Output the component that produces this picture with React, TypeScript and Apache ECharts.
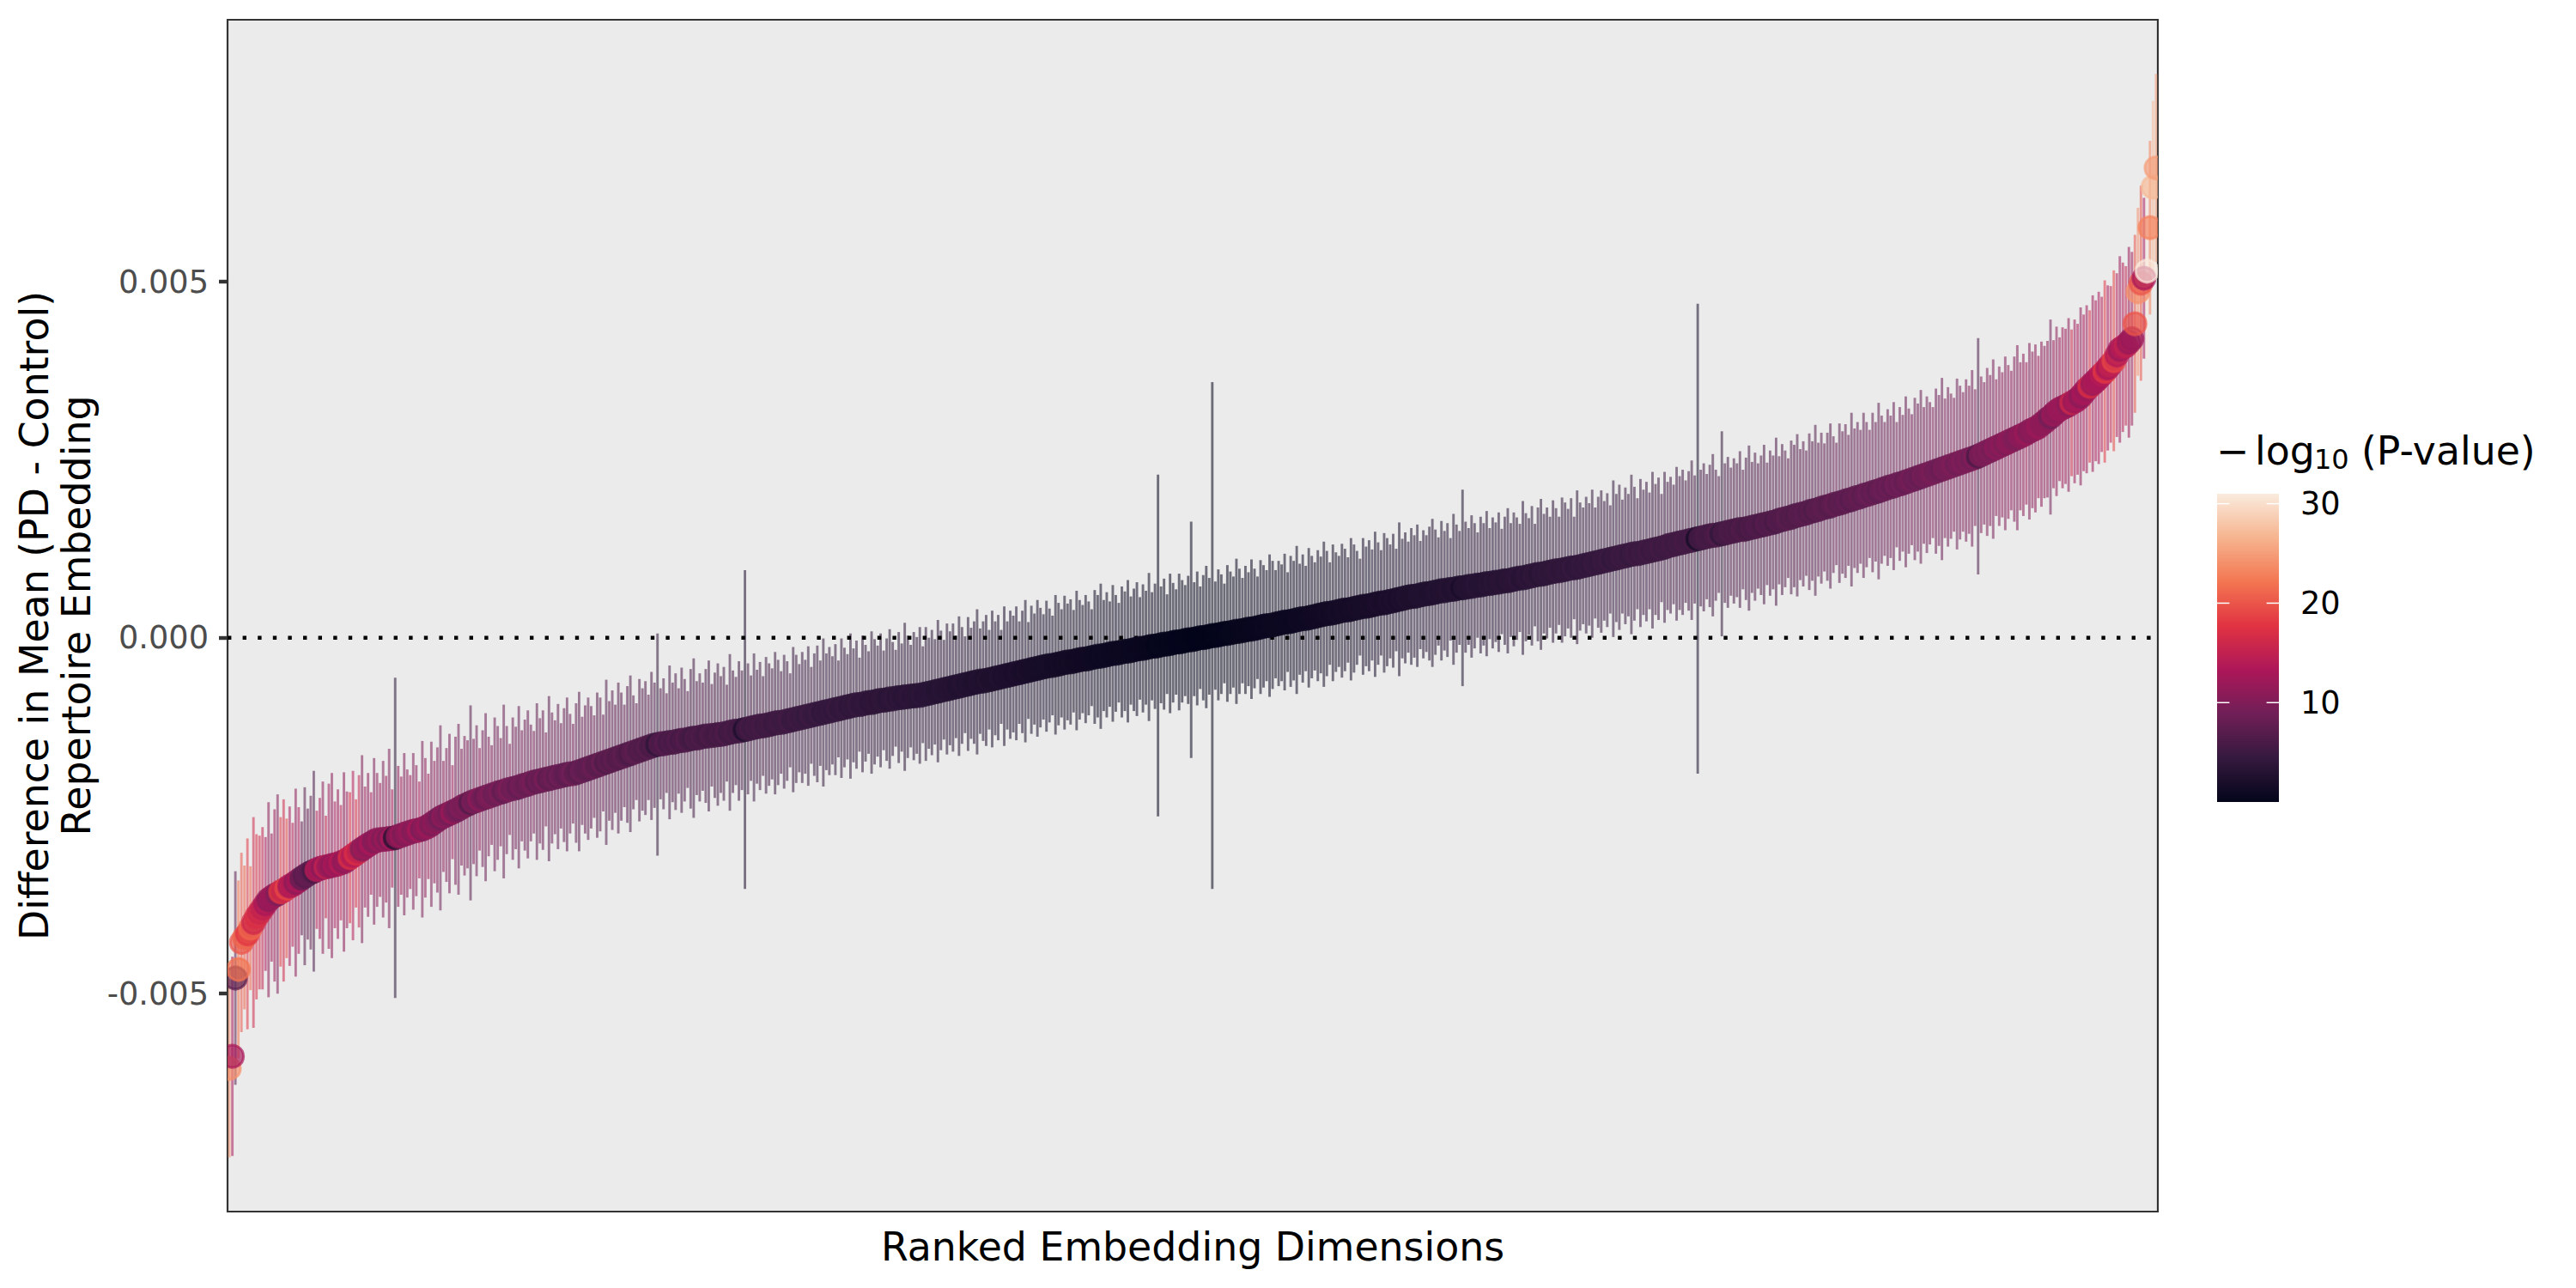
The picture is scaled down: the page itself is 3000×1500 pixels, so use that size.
import * as echarts from "echarts";
import { useEffect, useRef } from "react";

// difference in mean per ranked dimension, in units of 1e-5
const MEAN = [
  -605, -588, -478, -466, -428, -421, -416, -408, -400, -392, -386, -380, -374, -368, -365, -362, -360, -357, -355, -352,
  -349, -347, -344, -341, -338, -335, -332, -330, -328, -326, -324, -323, -322, -321, -320, -319, -318, -316, -315, -312,
  -309, -306, -303, -300, -297, -294, -291, -289, -286, -284, -284, -283, -283, -282, -282, -281, -279, -278, -276, -275,
  -273, -272, -271, -270, -269, -267, -265, -262, -259, -256, -253, -251, -249, -247, -245, -243, -241, -238, -236, -234,
  -232, -230, -229, -227, -226, -224, -223, -221, -220, -218, -217, -216, -214, -213, -212, -211, -210, -208, -207, -206,
  -204, -203, -202, -201, -200, -199, -198, -197, -196, -195, -194, -193, -192, -191, -191, -190, -188, -187, -185, -184,
  -182, -181, -179, -178, -176, -175, -173, -172, -170, -169, -167, -166, -164, -163, -161, -160, -158, -157, -155, -154,
  -152, -151, -150, -149, -149, -148, -147, -147, -146, -145, -144, -144, -143, -142, -141, -141, -140, -139, -138, -138,
  -137, -137, -136, -136, -135, -134, -133, -132, -131, -131, -130, -129, -128, -127, -126, -125, -124, -124, -123, -122,
  -121, -120, -119, -119, -118, -117, -116, -115, -114, -113, -112, -111, -110, -109, -108, -107, -106, -105, -104, -103,
  -102, -101, -100, -99, -98, -97, -96, -95, -94, -94, -93, -92, -91, -91, -90, -89, -88, -88, -87, -86,
  -86, -85, -84, -84, -83, -83, -82, -82, -81, -81, -80, -79, -78, -77, -76, -75, -74, -73, -72, -71,
  -70, -69, -68, -67, -66, -65, -64, -63, -62, -61, -61, -60, -59, -58, -57, -56, -55, -54, -53, -52,
  -51, -50, -49, -48, -47, -46, -45, -44, -43, -42, -41, -40, -39, -39, -38, -37, -36, -35, -34, -34,
  -33, -32, -31, -30, -30, -29, -28, -27, -26, -26, -25, -24, -23, -22, -22, -21, -20, -19, -19, -18,
  -17, -16, -15, -15, -14, -13, -12, -12, -11, -10, -9, -9, -8, -7, -6, -6, -5, -4, -3, -3,
  -2, -1, 0, 0, 1, 2, 3, 3, 4, 5, 6, 6, 7, 8, 9, 9, 10, 11, 12, 12,
  13, 14, 15, 16, 17, 17, 18, 19, 20, 21, 22, 22, 23, 24, 25, 26, 27, 27, 28, 29,
  30, 31, 32, 33, 34, 34, 35, 36, 37, 38, 39, 39, 40, 41, 42, 43, 44, 44, 45, 46,
  47, 48, 49, 49, 50, 51, 52, 53, 54, 55, 56, 57, 58, 58, 59, 60, 61, 62, 62, 63,
  64, 65, 66, 66, 67, 68, 68, 69, 70, 70, 71, 72, 72, 73, 74, 74, 75, 76, 76, 77,
  78, 78, 79, 80, 80, 81, 82, 83, 84, 84, 85, 86, 87, 88, 89, 89, 90, 91, 92, 93,
  94, 94, 95, 96, 97, 98, 98, 99, 100, 101, 102, 103, 104, 105, 106, 107, 108, 109, 110, 111,
  112, 113, 114, 115, 116, 117, 118, 118, 119, 120, 121, 122, 123, 124, 125, 126, 127, 129, 130, 131,
  132, 133, 134, 135, 136, 137, 138, 139, 140, 141, 142, 143, 144, 144, 145, 146, 147, 148, 149, 150,
  151, 152, 152, 153, 154, 155, 156, 157, 158, 159, 160, 161, 162, 163, 165, 166, 167, 168, 169, 171,
  172, 173, 174, 175, 177, 178, 179, 180, 182, 183, 184, 185, 187, 188, 189, 190, 192, 193, 194, 196,
  197, 198, 200, 201, 202, 204, 205, 206, 208, 209, 211, 212, 213, 215, 216, 217, 219, 220, 222, 223,
  225, 226, 228, 229, 231, 232, 234, 235, 237, 238, 240, 241, 243, 244, 246, 247, 249, 250, 252, 253,
  255, 257, 259, 261, 263, 265, 267, 269, 271, 273, 275, 277, 279, 281, 283, 285, 287, 290, 292, 294,
  296, 300, 303, 307, 310, 314, 318, 321, 323, 325, 327, 330, 332, 335, 339, 344, 349, 353, 357, 361,
  365, 370, 374, 379, 384, 389, 397, 405, 408, 410, 415, 420, 441, 486, 498, 505, 515, 576, 633, 660,
];

// half length of each interval, in units of 1e-5
const HALF = [
  125, 140, 150, 125, 126, 101, 134, 87, 148, 116, 108, 114, 94, 137, 90, 121, 140, 105, 128, 98,
  112, 87, 132, 103, 80, 125, 92, 108, 141, 83, 99, 121, 72, 116, 130, 89, 105, 81, 126, 96,
  92, 119, 76, 107, 132, 85, 101, 72, 117, 94, 80, 110, 89, 126, 69, 225, 99, 83, 114, 90,
  80, 110, 92, 68, 124, 98, 74, 116, 86, 102, 130, 78, 94, 112, 66, 104, 120, 82, 98, 90,
  137, 88, 106, 72, 96, 118, 84, 70, 108, 94, 76, 122, 90, 64, 100, 86, 114, 78, 92, 104,
  82, 72, 110, 88, 98, 66, 116, 92, 80, 102, 74, 94, 108, 84, 70, 98, 112, 76, 90, 100,
  86, 72, 102, 94, 68, 116, 84, 98, 76, 106, 90, 72, 96, 110, 80, 68, 100, 86, 94, 74,
  104, 88, 156, 78, 92, 70, 108, 84, 96, 74, 102, 86, 68, 98, 112, 80, 90, 76, 94, 106,
  72, 88, 100, 82, 94, 68, 110, 86, 76, 98, 84, 224, 92, 74, 104, 80, 90, 70, 96, 86,
  78, 100, 88, 72, 94, 84, 66, 102, 90, 76, 92, 80, 98, 68, 86, 96, 74, 104, 82, 90,
  76, 92, 68, 98, 84, 74, 102, 80, 90, 66, 96, 82, 72, 100, 88, 78, 94, 70, 86, 98,
  80, 68, 92, 76, 104, 86, 72, 90, 82, 96, 68, 94, 78, 88, 74, 100, 84, 70, 92, 80,
  90, 72, 98, 82, 68, 94, 78, 86, 102, 74, 84, 92, 70, 96, 80, 88, 66, 98, 76, 90,
  82, 94, 72, 86, 100, 68, 90, 78, 96, 84, 74, 92, 80, 70, 98, 86, 76, 94, 82, 88,
  72, 98, 84, 76, 90, 80, 68, 94, 86, 102, 78, 88, 74, 96, 82, 70, 92, 84, 100, 76,
  86, 94, 72, 90, 80, 104, 76, 88, 240, 82, 92, 70, 98, 84, 74, 96, 86, 78, 90, 166,
  80, 94, 72, 88, 100, 82, 356, 76, 92, 84, 70, 96, 86, 78, 102, 88, 74, 90, 80, 98,
  84, 72, 94, 86, 78, 100, 90, 76, 88, 82, 96, 70, 92, 84, 104, 78, 90, 74, 98, 86,
  76, 92, 82, 102, 88, 72, 96, 84, 78, 94, 86, 74, 100, 90, 80, 68, 96, 84, 92, 78,
  102, 86, 74, 98, 90, 80, 94, 72, 108, 84, 92, 78, 96, 86, 100, 76, 90, 82, 94, 104,
  88, 76, 98, 84, 94, 72, 106, 90, 80, 138, 92, 82, 100, 88, 74, 96, 86, 102, 78, 92,
  84, 98, 74, 90, 102, 80, 94, 86, 76, 108, 90, 82, 98, 72, 94, 106, 84, 92, 78, 100,
  88, 76, 102, 94, 84, 98, 72, 108, 90, 82, 96, 86, 104, 78, 92, 100, 84, 94, 76, 110,
  90, 102, 80, 96, 86, 112, 94, 78, 104, 88, 98, 82, 110, 92, 100, 76, 106, 90, 96, 84,
  108, 94, 102, 86, 98, 112, 90, 330, 96, 104, 88, 100, 114, 92, 82, 144, 98, 106, 90, 102,
  94, 110, 84, 100, 116, 92, 104, 88, 98, 112, 86, 102, 94, 118, 90, 106, 96, 84, 108, 100,
  114, 92, 102, 88, 110, 98, 120, 94, 106, 90, 104, 116, 96, 86, 112, 100, 108, 92, 122, 98,
  106, 94, 116, 102, 90, 112, 98, 124, 104, 94, 110, 100, 118, 88, 108, 96, 120, 102, 92, 114,
  104, 122, 96, 110, 100, 92, 116, 106, 128, 98, 112, 102, 94, 120, 108, 98, 114, 104, 124, 96,
  166, 110, 100, 118, 106, 126, 96, 112, 102, 122, 108, 98, 116, 130, 104, 114, 100, 124, 110, 118,
  100, 116, 107, 110, 137, 104, 119, 101, 113, 109, 122, 103, 115, 106, 125, 110, 118, 107, 124, 113,
  121, 109, 128, 116, 110, 127, 115, 131, 119, 112, 134, 122, 125, 118, 137, 113, 122, 122, 121, 132,
];

// -log10(P-value) per dimension
const NLP = [
  24, 13, 7, 22, 20, 21, 18, 21, 16, 17, 16, 15, 13, 11, 12, 12, 10, 18, 16, 19,
  13, 14, 11, 13, 8, 7, 8, 7.5, 6, 14, 13, 11, 15, 12, 11, 13, 12, 14, 11, 12,
  17, 14, 17, 15, 10, 12, 11, 13, 10, 11, 12, 10, 12, 9.6, 13, 3, 11, 12, 9.9, 11,
  12, 10, 11, 13, 9.6, 11, 12, 9.7, 11, 10, 8.8, 11, 10, 9.3, 12, 9.5, 8.8, 10, 9.5, 9.9,
  6.8, 9.8, 8.9, 11, 9.2, 8.2, 9.7, 10, 8.5, 9, 9.9, 7.8, 9, 10, 8.5, 9.1, 7.9, 9.3, 8.6, 8.1,
  9, 9.4, 7.7, 8.6, 8.1, 9.6, 7.3, 8.2, 8.7, 7.7, 8.9, 8, 7.4, 8.3, 9, 7.7, 7.1, 8.5, 7.8, 7.4,
  7.8, 8.4, 7.1, 7.3, 8.4, 6.5, 7.5, 6.9, 7.7, 6.6, 7, 7.7, 6.7, 6.2, 7.2, 7.6, 6.3, 6.8, 6.4, 7.1,
  6, 6.4, 3.8, 6.7, 6.2, 7, 5.7, 6.4, 6, 6.7, 5.7, 6.2, 6.8, 5.7, 5.3, 6.3, 5.9, 6.3, 5.7, 5.4,
  6.4, 5.8, 5.4, 6, 5.6, 6.4, 5.1, 5.7, 6, 5.3, 5.7, 2.3, 5.3, 5.8, 4.9, 5.6, 5.2, 5.8, 5, 5.2,
  5.4, 4.8, 5.1, 5.5, 4.9, 5.1, 5.6, 4.6, 4.8, 5.1, 4.7, 4.9, 4.4, 5.2, 4.6, 4.4, 4.9, 4.1, 4.6, 4.3,
  4.6, 4.2, 4.8, 4, 4.3, 4.5, 3.8, 4.2, 4, 4.5, 3.8, 4, 4.2, 3.6, 3.8, 4, 3.6, 4.1, 3.7, 3.5,
  3.8, 4, 3.5, 3.8, 3.3, 3.6, 3.8, 3.5, 3.6, 3.3, 3.8, 3.3, 3.5, 3.3, 3.5, 3, 3.2, 3.4, 3, 3.2,
  2.9, 3.2, 2.7, 2.9, 3.1, 2.7, 2.9, 2.7, 2.5, 2.8, 2.7, 2.5, 2.8, 2.4, 2.5, 2.4, 2.7, 2.2, 2.4, 2.2,
  2.2, 2.1, 2.3, 2.1, 1.9, 2.2, 1.9, 2, 1.8, 1.8, 1.9, 1.7, 1.7, 1.8, 1.5, 1.6, 1.6, 1.4, 1.5, 1.4,
  1.5, 1.3, 1.3, 1.4, 1.3, 1.3, 1.3, 1.1, 1.1, 1, 1.1, 1, 1.1, 0.9, 1, 1, 0.8, 0.8, 0.8, 0.8,
  0.7, 0.7, 0.7, 0.6, 0.6, 0.5, 0.5, 0.5, 0.2, 0.4, 0.4, 0.4, 0.3, 0.3, 0.3, 0.2, 0.2, 0.2, 0.1, 0.1,
  0.1, 0.04, 0.01, 0.02, 0.04, 0.1, 0.03, 0.1, 0.2, 0.2, 0.3, 0.2, 0.3, 0.4, 0.4, 0.4, 0.5, 0.5, 0.5, 0.5,
  0.6, 0.7, 0.6, 0.7, 0.8, 0.7, 0.8, 0.9, 0.9, 0.9, 0.9, 1, 1, 1, 1, 1.2, 1.1, 1.2, 1.1, 1.2,
  1.4, 1.3, 1.4, 1.3, 1.4, 1.6, 1.4, 1.6, 1.7, 1.6, 1.7, 1.8, 1.6, 1.7, 1.9, 2, 1.8, 1.9, 1.9, 2.1,
  1.9, 2.1, 2.3, 2, 2.1, 2.3, 2.1, 2.5, 2.1, 2.4, 2.3, 2.6, 2.4, 2.5, 2.4, 2.7, 2.6, 2.7, 2.6, 2.5,
  2.7, 3, 2.7, 2.9, 2.8, 3.2, 2.6, 2.9, 3.1, 2, 3, 3.2, 2.9, 3.1, 3.4, 3, 3.2, 3, 3.4, 3.2,
  3.4, 3.2, 3.6, 3.4, 3.2, 3.6, 3.4, 3.6, 3.8, 3.2, 3.6, 3.8, 3.5, 4.1, 3.7, 3.5, 3.9, 3.8, 4.1, 3.7,
  4, 4.3, 3.8, 4, 4.2, 4, 4.6, 3.8, 4.2, 4.4, 4.2, 4.4, 4.1, 4.7, 4.4, 4.3, 4.7, 4.5, 5, 4.2,
  4.7, 4.5, 5.1, 4.7, 5, 4.4, 4.9, 5.3, 4.7, 5.1, 4.9, 5.4, 4.7, 5.2, 5, 5.7, 4.9, 5.4, 5.3, 5.7,
  5.1, 5.5, 5.3, 5.8, 5.5, 5.2, 5.8, 1.7, 5.7, 5.5, 6, 5.7, 5.4, 6, 6.4, 4.1, 5.9, 5.7, 6.3, 5.9,
  6.2, 5.8, 6.6, 6.1, 5.7, 6.5, 6.1, 6.7, 6.4, 6, 6.9, 6.4, 6.7, 6, 6.9, 6.4, 6.8, 7.3, 6.5, 6.8,
  6.4, 7.2, 6.9, 7.4, 6.7, 7.2, 6.5, 7.4, 7.1, 7.7, 7.2, 6.9, 7.6, 8.1, 7.1, 7.6, 7.4, 8, 7, 7.9,
  7.7, 8.2, 7.4, 8, 8.5, 7.7, 8.3, 7.4, 8.2, 8.6, 8, 8.5, 7.8, 9.1, 8.3, 8.9, 8, 8.7, 9.3, 8.3,
  8.8, 8.1, 9.3, 8.7, 9.2, 9.7, 8.7, 9.1, 8.3, 9.6, 9.1, 9.5, 10, 8.9, 9.5, 10, 9.3, 9.8, 9, 10,
  6.1, 9.8, 10, 9.6, 10, 9.4, 11, 10, 11, 9.8, 11, 11, 10, 9.8, 11, 11, 12, 10, 11, 11,
  12, 11, 11, 11, 9.1, 12, 11, 12, 12, 12, 11, 16, 12, 13, 11, 13, 12, 17, 12, 13,
  13, 14, 18, 13, 15, 19, 14, 12, 14, 15, 12, 12, 20, 24, 20, 13, 31, 23, 27, 25,
];

const Y_TICKS = [-0.005, 0, 0.005];
const COLORBAR_TICKS = [10, 20, 30];
const ROCKET = ["#03051A", "#35193E", "#701F57", "#AD1759", "#E13342", "#F37651", "#F6B48F", "#FAEBDD"];
const UNIT = 1e-5;
const FONT = "DejaVu Sans";

export default function App() {
  const chartRef = useRef<HTMLDivElement | null>(null);

  useEffect(() => {
    if (!chartRef.current) return;
    const chart = echarts.init(chartRef.current, null, { renderer: "svg" });

    const n = MEAN.length;
    const rows = MEAN.map((m, i) => ({
      x: i + 1,
      mean: m * UNIT,
      lo: (m - HALF[i]) * UNIT,
      hi: (m + HALF[i]) * UNIT,
      p: NLP[i],
    }));
    const pMin = Math.min(...NLP);
    const pMax = Math.max(...NLP);
    const colorOf = (p: number, alpha: number) =>
      echarts.color.modifyAlpha(echarts.color.lerp((p - pMin) / (pMax - pMin), ROCKET), alpha);

    // ggplot style 5% expansion on the y range
    const dataLo = Math.min(...rows.map((r) => r.lo));
    const dataHi = Math.max(...rows.map((r) => r.hi));
    const pad = (dataHi - dataLo) * 0.05;

    const cb = { x: 2582, y: 575, w: 72, h: 359 };
    const cbPos = (v: number) => cb.y + cb.h - ((v - pMin) / (pMax - pMin)) * cb.h;
    const txt = (text: string, x: number, y: number, size: number, extra: any = {}) => ({
      type: "text",
      x,
      y,
      silent: true,
      ...extra,
      style: {
        text,
        fontSize: size,
        fontFamily: FONT,
        fill: "#000000",
        align: extra.align || "left",
        textAlign: extra.align || "left",
        verticalAlign: "middle",
        textVerticalAlign: "middle",
      },
    });

    const graphic: any[] = [
      {
        type: "rect",
        silent: true,
        shape: { x: cb.x, y: cb.y, width: cb.w, height: cb.h },
        style: {
          fill: {
            type: "linear",
            x: 0,
            y: 1,
            x2: 0,
            y2: 0,
            colorStops: ROCKET.map((c, i) => ({ offset: i / (ROCKET.length - 1), color: c })),
          },
        },
      },
    ];
    COLORBAR_TICKS.forEach((v) => {
      const y = cbPos(v);
      graphic.push(
        { type: "line", silent: true, shape: { x1: cb.x, y1: y, x2: cb.x + cb.w / 5, y2: y }, style: { stroke: "#FFFFFF", lineWidth: 1.5 } },
        { type: "line", silent: true, shape: { x1: cb.x + cb.w - cb.w / 5, y1: y, x2: cb.x + cb.w, y2: y }, style: { stroke: "#FFFFFF", lineWidth: 1.5 } },
        txt(String(v), 2679, y, 36.7)
      );
    });
    graphic.push(
      txt("\u2212", 2581, 525, 45.8),
      txt("log", 2626, 525, 45.8),
      txt("10", 2695, 535, 32),
      txt("(P-value)", 2750, 525, 45.8),
      txt("Ranked Embedding Dimensions", 1389, 1452, 45.8, { align: "center" }),
      txt("Difference in Mean (PD - Control)", 40, 717, 45.8, { align: "center", rotation: Math.PI / 2 }),
      txt("Repertoire Embedding", 89, 717, 45.8, { align: "center", rotation: Math.PI / 2 })
    );

    chart.setOption({
      animation: false,
      backgroundColor: "#FFFFFF",
      grid: {
        left: 265,
        top: 23,
        width: 2248,
        height: 1388,
        show: true,
        backgroundColor: "#EBEBEB",
        borderColor: "#333333",
        borderWidth: 2.2,
      },
      xAxis: { type: "value", min: 0.4, max: n + 0.6, show: false },
      yAxis: {
        type: "value",
        min: dataLo - pad,
        max: dataHi + pad,
        axisLine: { show: false },
        splitLine: { show: false },
        axisTick: {
          show: true,
          customValues: Y_TICKS,
          length: 10,
          lineStyle: { color: "#333333", width: 4.4 },
        },
        axisLabel: {
          customValues: Y_TICKS,
          formatter: (v: number) => v.toFixed(3),
          color: "#4D4D4D",
          fontSize: 36.7,
          fontFamily: FONT,
          margin: 22,
        },
      },
      series: [
        {
          type: "custom",
          z: 2,
          clip: true,
          silent: true,
          data: rows.map((r) => [r.x, r.lo, r.hi, r.p]),
          encode: { x: 0, y: [1, 2] },
          renderItem: (_params: any, api: any) => {
            const a = api.coord([api.value(0), api.value(1)]);
            const b = api.coord([api.value(0), api.value(2)]);
            return {
              type: "line",
              shape: { x1: a[0], y1: a[1], x2: b[0], y2: b[1] },
              style: { stroke: colorOf(api.value(3), 0.55), lineWidth: 2.9 },
            };
          },
        },
        {
          type: "line",
          z: 3,
          silent: true,
          symbol: "none",
          data: [
            [0.4, 0],
            [n + 0.6, 0],
          ],
          lineStyle: { color: "#000000", width: 4.4, type: [4.4, 13.2] },
        },
        {
          type: "custom",
          z: 4,
          clip: true,
          silent: true,
          data: rows.map((r) => [r.x, r.mean, r.p]),
          encode: { x: 0, y: 1 },
          renderItem: (_params: any, api: any) => {
            const c = api.coord([api.value(0), api.value(1)]);
            const col = colorOf(api.value(2), 0.68);
            return {
              type: "circle",
              shape: { cx: c[0], cy: c[1], r: 13 },
              style: { fill: col, stroke: col, lineWidth: 3 },
            };
          },
        },
      ],
      graphic,
    });

    return () => {
      chart.dispose();
    };
  }, []);

  return <div ref={chartRef} style={{ position: "absolute", left: 0, top: 0, width: 3000, height: 1500 }} />;
}
